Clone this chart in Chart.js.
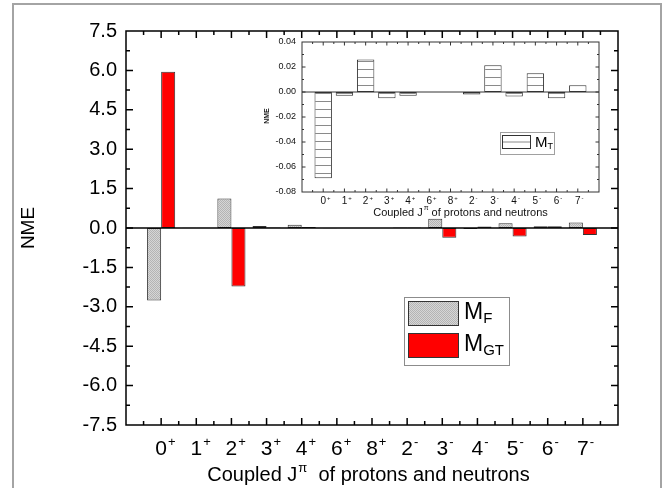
<!DOCTYPE html>
<html>
<head>
<meta charset="utf-8">
<script src="https://cdn.jsdelivr.net/npm/chart.js@4.4.0/dist/chart.umd.min.js"></script>
<style>
  html, body { margin: 0; padding: 0; background: #fff; }
  #wrap { position: relative; width: 663px; height: 488px; overflow: hidden; }
  #frame { position: absolute; left: 12px; top: 3px; width: 646px; height: 520px; border: 2px solid #a4a4a4; border-bottom: none; }
  #main { position: absolute; left: 0; top: 0; }
  #inset { position: absolute; left: 250px; top: 30px; }
</style>
</head>
<body>
<div id="wrap">
  <div id="frame"></div>
  <canvas id="main" width="663" height="488"></canvas>
  <canvas id="inset" width="370" height="195"></canvas>
</div>
<script>
// categories (coupled J^pi)
const categories = ['0+', '1+', '2+', '3+', '4+', '6+', '8+', '2-', '3-', '4-', '5-', '6-', '7-'];
// main chart values
const mF  = [-2.76, 0.01, 1.12, 0.08, 0.12, -0.01, 0.0, 0.02, 0.35, -0.04, 0.18, 0.07, 0.21];
const mGT = [5.95, 0.01, -2.23, 0.02, 0.04, 0.0, 0.0, 0.02, -0.37, 0.06, -0.32, 0.07, -0.27];
// inset values
const mT  = [-0.069, -0.003, 0.026, -0.005, -0.003, 0.0, 0.0, -0.002, 0.0215, -0.0035, 0.015, -0.005, 0.0055];
// tick settings
const mainYTicks = { min: -7.5, max: 7.5, step: 1.5 };
const insetYTicks = { min: -0.08, max: 0.04, step: 0.02 };

const FONT = "'Liberation Sans', Arial, sans-serif";

// x labels padded with an empty slot on each side
const labels = ['', ...categories, ''];
const pad = arr => [null, ...arr, null];

// fill patterns
function makeGrayPattern() {
    const c = document.createElement('canvas');
    c.width = 2; c.height = 2;
    const g = c.getContext('2d');
    g.fillStyle = '#d6d6d6'; g.fillRect(0, 0, 2, 2);
    g.fillStyle = '#b4b4b4'; g.fillRect(0, 0, 1, 1); g.fillRect(1, 1, 1, 1);
    return g.createPattern(c, 'repeat');
}
function makeHatchPattern() {
    const c = document.createElement('canvas');
    c.width = 8; c.height = 8;
    const g = c.getContext('2d');
    g.fillStyle = '#ffffff'; g.fillRect(0, 0, 8, 8);
    g.fillStyle = '#8a8a8a'; g.fillRect(0, 7, 8, 1);
    return g.createPattern(c, 'repeat');
}
const grayPattern = makeGrayPattern();
const hatchPattern = makeHatchPattern();

// text with a superscript, base centered at cx
function labelSup(ctx, cx, cy, base, sup, bSize, sSize, raise) {
    ctx.textBaseline = 'middle';
    ctx.textAlign = 'left';
    ctx.font = bSize + 'px ' + FONT;
    const bw = ctx.measureText(base).width;
    ctx.fillText(base, cx - bw / 2, cy);
    ctx.font = sSize + 'px ' + FONT;
    ctx.fillText(sup, cx + bw / 2 + 1, cy - raise);
}

// "Coupled J^pi of protons and neutrons"
function axisTitle(ctx, cx, cy, bSize, sSize, raise, gap) {
    const a = 'Coupled J', s = '\u03c0', b = gap + 'of protons and neutrons';
    ctx.textBaseline = 'middle';
    ctx.textAlign = 'left';
    ctx.font = bSize + 'px ' + FONT;
    const w1 = ctx.measureText(a).width, w3 = ctx.measureText(b).width;
    ctx.font = sSize + 'px ' + FONT;
    const w2 = ctx.measureText(s).width;
    let x0 = cx - (w1 + w2 + w3) / 2;
    ctx.font = bSize + 'px ' + FONT;
    ctx.fillText(a, x0, cy);
    ctx.font = sSize + 'px ' + FONT;
    ctx.fillText(s, x0 + w1 + 1, cy - raise);
    ctx.font = bSize + 'px ' + FONT;
    ctx.fillText(b, x0 + w1 + w2 + 1, cy);
}

// inward ticks on all four sides
function frameTicks(ctx, a, xScale, yScale, yMajors, major, minor) {
    ctx.beginPath();
    for (let i = 0.5; i < labels.length - 1; i += 0.5) {
        const px = xScale.getPixelForValue(i);
        const len = Number.isInteger(i) ? major : minor;
        ctx.moveTo(px, a.bottom); ctx.lineTo(px, a.bottom - len);
        ctx.moveTo(px, a.top); ctx.lineTo(px, a.top + len);
    }
    for (let k = 0; k < yMajors.length; k++) {
        const v = yMajors[k];
        const py = yScale.getPixelForValue(v);
        if (k > 0 && k < yMajors.length - 1) {
            ctx.moveTo(a.left, py); ctx.lineTo(a.left + major, py);
            ctx.moveTo(a.right, py); ctx.lineTo(a.right - major, py);
        }
        if (k < yMajors.length - 1) {
            const pm = yScale.getPixelForValue((v + yMajors[k + 1]) / 2);
            ctx.moveTo(a.left, pm); ctx.lineTo(a.left + minor, pm);
            ctx.moveTo(a.right, pm); ctx.lineTo(a.right - minor, pm);
        }
    }
    ctx.stroke();
}

const mainDecor = {
    id: 'mainDecor',
    afterDatasetsDraw(chart) {
        const { ctx, chartArea: a, scales: { x, y } } = chart;
        ctx.save();
        ctx.strokeStyle = '#000';
        ctx.fillStyle = '#000';
        ctx.lineWidth = 1.5;
        // zero line
        const y0 = y.getPixelForValue(0);
        ctx.beginPath(); ctx.moveTo(a.left, y0); ctx.lineTo(a.right, y0); ctx.stroke();
        // box
        ctx.strokeRect(a.left, a.top, a.right - a.left, a.bottom - a.top);
        frameTicks(ctx, a, x, y, y.ticks.map(t => t.value), 7, 4);
        // x labels
        categories.forEach((c, i) => {
            labelSup(ctx, x.getPixelForValue(i + 1), 449, c.slice(0, -1), c.slice(-1), 21, 13, 7);
        });
        axisTitle(ctx, 368, 475, 20, 13, 7, '  ');
        // y title
        ctx.save();
        ctx.translate(29, y0);
        ctx.rotate(-Math.PI / 2);
        ctx.textAlign = 'center';
        ctx.textBaseline = 'middle';
        ctx.font = '19px ' + FONT;
        ctx.fillText('NME', 0, 0);
        ctx.restore();
        // legend
        ctx.lineWidth = 1;
        ctx.strokeStyle = '#8c8c8c';
        ctx.strokeRect(404.5, 297.5, 105, 68);
        ctx.strokeStyle = '#333';
        ctx.fillStyle = grayPattern;
        ctx.fillRect(408.5, 301.5, 50, 24); ctx.strokeRect(408.5, 301.5, 50, 24);
        ctx.fillStyle = '#ff0000';
        ctx.fillRect(408.5, 333.5, 50, 24); ctx.strokeRect(408.5, 333.5, 50, 24);
        ctx.fillStyle = '#000';
        ctx.textBaseline = 'middle'; ctx.textAlign = 'left';
        ctx.font = '23px ' + FONT;
        const mw = ctx.measureText('M').width;
        ctx.fillText('M', 464, 313);
        ctx.fillText('M', 464, 345);
        ctx.font = '15px ' + FONT;
        ctx.fillText('F', 464 + mw, 319);
        ctx.fillText('GT', 464 + mw, 351);
        ctx.restore();
    }
};

const insetDecor = {
    id: 'insetDecor',
    afterDatasetsDraw(chart) {
        const { ctx, chartArea: a, scales: { x, y } } = chart;
        ctx.save();
        ctx.strokeStyle = '#333';
        ctx.fillStyle = '#111';
        ctx.lineWidth = 1;
        const y0 = y.getPixelForValue(0);
        ctx.beginPath(); ctx.moveTo(a.left, y0); ctx.lineTo(a.right, y0); ctx.stroke();
        ctx.strokeRect(a.left, a.top, a.right - a.left, a.bottom - a.top);
        frameTicks(ctx, a, x, y, y.ticks.map(t => t.value), 3.5, 2);
        categories.forEach((c, i) => {
            labelSup(ctx, x.getPixelForValue(i + 1), 171.5, c.slice(0, -1), c.slice(-1), 10, 6, 3.5);
        });
        axisTitle(ctx, 210, 182.5, 11, 7, 4, ' ');
        ctx.save();
        ctx.translate(17, 86);
        ctx.rotate(-Math.PI / 2);
        ctx.textAlign = 'center';
        ctx.textBaseline = 'middle';
        ctx.font = 'bold 7px ' + FONT;
        ctx.fillText('NME', 0, 0);
        ctx.restore();
        // legend
        ctx.strokeStyle = '#a0a0a0';
        ctx.strokeRect(250.5, 102.5, 54, 22);
        ctx.strokeStyle = '#333';
        ctx.fillStyle = '#fff';
        ctx.fillRect(252.5, 105.5, 28, 13); ctx.strokeRect(252.5, 105.5, 28, 13);
        ctx.strokeStyle = '#8a8a8a';
        ctx.beginPath(); ctx.moveTo(253, 112); ctx.lineTo(280, 112); ctx.stroke();
        ctx.fillStyle = '#000';
        ctx.textBaseline = 'middle'; ctx.textAlign = 'left';
        ctx.font = '15px ' + FONT;
        const mw = ctx.measureText('M').width;
        ctx.fillText('M', 285, 113);
        ctx.font = '9px ' + FONT;
        ctx.fillText('T', 285 + mw, 117);
        ctx.restore();
    }
};

// main chart
new Chart(document.getElementById('main'), {
    type: 'bar',
    data: {
        labels: labels,
        datasets: [
            { label: 'MF', data: pad(mF), backgroundColor: grayPattern, borderColor: '#333', borderWidth: 1, borderSkipped: false },
            { label: 'MGT', data: pad(mGT), backgroundColor: '#ff0000', borderColor: '#333', borderWidth: 1, borderSkipped: false }
        ]
    },
    options: {
        responsive: false,
        animation: false,
        layout: { padding: { left: 0, right: 45, top: 31, bottom: 0 } },
        plugins: { legend: { display: false }, tooltip: { enabled: false } },
        datasets: { bar: { categoryPercentage: 0.8, barPercentage: 1.0 } },
        scales: {
            x: {
                offset: false,
                grid: { display: false, drawTicks: false },
                border: { display: false },
                ticks: { display: false },
                afterFit: s => { s.height = 63; }
            },
            y: {
                min: mainYTicks.min, max: mainYTicks.max,
                grid: { display: false, drawTicks: false },
                border: { display: false },
                ticks: {
                    stepSize: mainYTicks.step, padding: 9, color: '#000',
                    font: { family: FONT, size: 20 },
                    callback: v => (Math.abs(v) < 1e-9 ? 0 : v).toFixed(1)
                },
                afterFit: s => { s.width = 126; }
            }
        }
    },
    plugins: [mainDecor]
});

// inset chart
new Chart(document.getElementById('inset'), {
    type: 'bar',
    data: {
        labels: labels,
        datasets: [
            { label: 'MT', data: pad(mT), backgroundColor: hatchPattern, borderColor: '#333', borderWidth: 1, borderSkipped: false }
        ]
    },
    options: {
        responsive: false,
        animation: false,
        layout: { padding: { left: 0, right: 21, top: 12, bottom: 0 } },
        plugins: { legend: { display: false }, tooltip: { enabled: false } },
        datasets: { bar: { categoryPercentage: 0.82, barPercentage: 1.0 } },
        scales: {
            x: {
                offset: false,
                grid: { display: false, drawTicks: false },
                border: { display: false },
                ticks: { display: false },
                afterFit: s => { s.height = 33; }
            },
            y: {
                min: insetYTicks.min, max: insetYTicks.max,
                grid: { display: false, drawTicks: false },
                border: { display: false },
                ticks: {
                    stepSize: insetYTicks.step, padding: 6, color: '#111',
                    font: { family: FONT, size: 9 },
                    callback: v => (Math.abs(v) < 1e-9 ? 0 : v).toFixed(2)
                },
                afterFit: s => { s.width = 52; }
            }
        }
    },
    plugins: [insetDecor]
});
</script>
</body>
</html>
